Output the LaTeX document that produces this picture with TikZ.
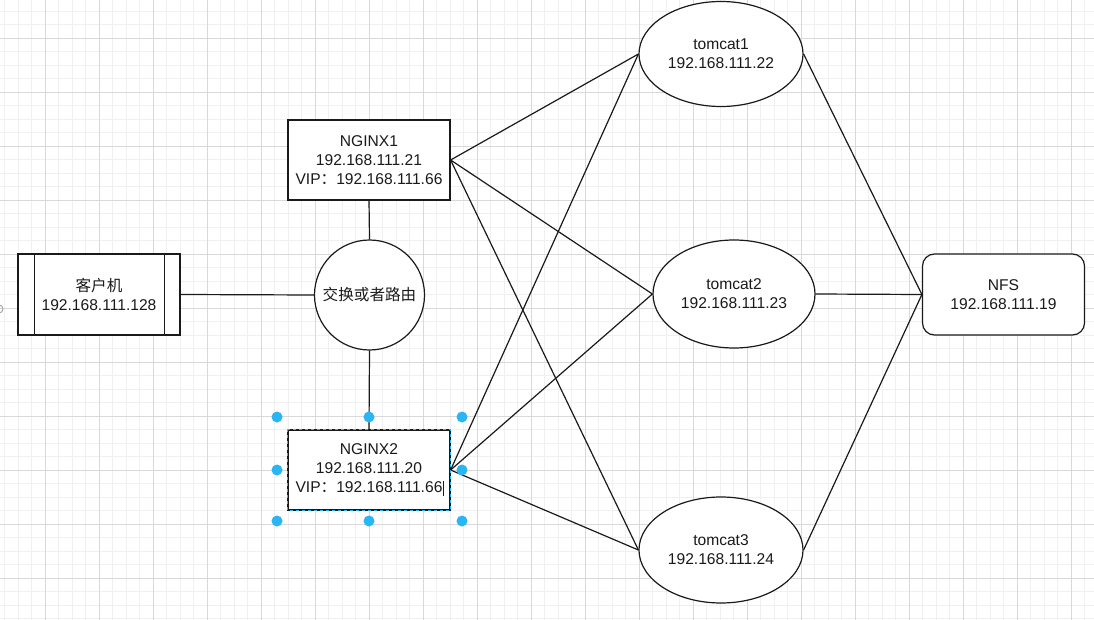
\documentclass[tikz,border=0pt]{standalone}
\usepackage{fontspec}
\setmainfont{Liberation Sans}
\newfontfamily\cjk{Noto Sans CJK SC}
\usetikzlibrary{shapes.geometric}
\definecolor{selblue}{HTML}{29B6F2}
\definecolor{gridmajor}{HTML}{D9D9D9}
\definecolor{gridminor}{HTML}{F0F0F0}
\definecolor{ink}{HTML}{1A1A1A}
\begin{document}
\begin{tikzpicture}[x=1pt,y=-1pt,
  every node/.style={font=\fontsize{15.6}{19}\selectfont, text=ink, align=center, inner sep=0pt},
  boxshape/.style={draw=ink, line width=1.2pt, fill=white, rectangle, minimum width=162pt, minimum height=80pt},
  ellshape/.style={draw=ink, line width=1.2pt, fill=white, ellipse, minimum width=164pt, minimum height=106pt},
  edge/.style={draw=ink, line width=1.2pt},
  minorline/.style={draw=gridminor, line width=1pt},
  majorline/.style={draw=gridmajor, line width=1pt}]
\useasboundingbox (0,0) rectangle (1094,620);
\fill[white] (0,0) rectangle (1094,620);
% grid
\foreach \x in {4.5,18,...,1094} \draw[minorline] (\x,0) -- (\x,620);
\foreach \y in {11.3,24.8,...,620} \draw[minorline] (0,\y) -- (1094,\y);
\foreach \x in {45,99,...,1094} \draw[majorline] (\x,0) -- (\x,620);
\foreach \y in {38.3,92.3,...,620} \draw[majorline] (0,\y) -- (1094,\y);
% small connection circle at left edge
\draw[gray!80, line width=0.8pt] (-1,309) circle (4);
% nodes
\node[boxshape, minimum height=81pt] (client) at (99,294.5) {{\cjk 客户机}\\192.168.111.128};
\draw[ink, line width=1.2pt] ([xshift=17pt]client.north west) -- ([xshift=17pt]client.south west);
\draw[ink, line width=1.2pt] ([xshift=-16pt]client.north east) -- ([xshift=-16pt]client.south east);
\node[draw=ink, line width=1.2pt, fill=white, circle, minimum size=110pt] (sw) at (369.5,295) {{\cjk 交换或者路由}};
\node[boxshape] (n1) at (369,160) {NGINX1\\192.168.111.21\\VIP{\cjk ：}192.168.111.66};
\node[boxshape] (n2) at (369,470) {NGINX2\\192.168.111.20\\VIP{\cjk ：}192.168.111.66\rlap{\kern0.8pt\rule[-3pt]{1pt}{15pt}}};
\node[ellshape, minimum height=105pt] (t1) at (721,54) {tomcat1\\192.168.111.22};
\node[ellshape, minimum width=162pt, minimum height=108pt] (t2) at (734,294) {tomcat2\\192.168.111.23};
\node[ellshape] (t3) at (721,550) {tomcat3\\192.168.111.24};
\node[boxshape, minimum height=81pt, rounded corners=12pt] (nfs) at (1003.5,294.5) {NFS\\192.168.111.19};
% connectors
\draw[edge] (client.east) -- (sw.west);
\draw[edge] (n1.south) -- (sw.north);
\draw[edge] (sw.south) -- (n2.north);
\draw[edge] (n1.east) -- (t1.west);
\draw[edge] (n1.east) -- (t2.west);
\draw[edge] (n1.east) -- (t3.west);
\draw[edge] (n2.east) -- (t1.west);
\draw[edge] (n2.east) -- (t2.west);
\draw[edge] (n2.east) -- (t3.west);
\draw[edge] (t1.east) -- (nfs.west);
\draw[edge] (t2.east) -- (nfs.west);
\draw[edge] (t3.east) -- (nfs.west);
% selection of NGINX2
\draw[selblue, line width=1.2pt, dash pattern=on 3pt off 3pt] (n2.north west) rectangle (n2.south east);
\foreach \hx in {277,369,462} \foreach \hy in {417,470,521} {
  \ifnum\hx=369 \ifnum\hy=470 \else \fill[selblue] (\hx,\hy) circle (5.5); \fi
  \else \fill[selblue] (\hx,\hy) circle (5.5); \fi
}
\end{tikzpicture}
\end{document}
